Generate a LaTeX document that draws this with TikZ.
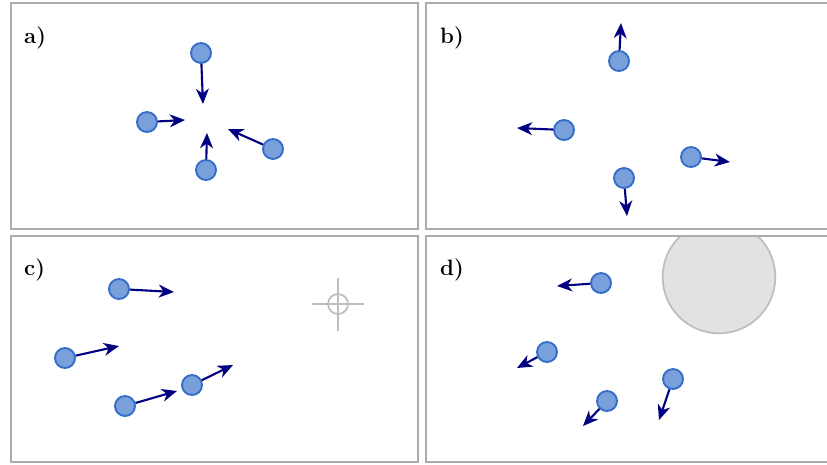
\documentclass[tikz,border=0pt]{standalone}
\usetikzlibrary{arrows.meta}

\definecolor{framegray}{RGB}{172,172,172}
\definecolor{partfill}{RGB}{122,160,220}
\definecolor{partedge}{RGB}{52,110,200}
\definecolor{velblue}{RGB}{0,0,128}
\definecolor{obstfill}{RGB}{226,226,226}
\definecolor{obstedge}{RGB}{190,190,190}

\tikzset{
    panel/.style={draw=framegray, line width=1.7pt},
    particle/.style={circle, draw=partedge, fill=partfill, line width=1.6pt,
        minimum size=0.6cm, inner sep=0pt},
    vel/.style={draw=velblue, line width=1.8pt,
        -{Stealth[length=13pt, width=11pt, inset=4pt]}},
    tag/.style={anchor=base west, inner sep=0pt, font=\fontsize{19}{22}\selectfont\bfseries},
    target/.style={draw=obstedge, line width=1.5pt},
}

\begin{document}
\begin{tikzpicture}[x=0.03cm, y=-0.03cm]
    \useasboundingbox (0,0) rectangle (827,464);

    % a) converging
    \begin{scope}
        \draw[panel] (11,3) rectangle (418,229);
        \node[tag] (la) at (24,43) {a)};
        \foreach \px/\py/\tx/\ty [count=\i] in {201/53/203/104, 147/122/185/120,
                206/170/207/133, 273/149/228/129} {
            \node[particle] (a\i) at (\px,\py) {};
            \coordinate (va\i) at (\tx,\ty);
            \draw[vel] (a\i) -- (va\i);
        }
    \end{scope}

    % b) diverging
    \begin{scope}
        \draw[panel] (426,3) rectangle (834,229);
        \node[tag] (lb) at (440,43) {b)};
        \foreach \px/\py/\tx/\ty [count=\i] in {619/61/621/23, 564/130/517/128,
                691/157/730/162, 624/178/627/216} {
            \node[particle] (b\i) at (\px,\py) {};
            \coordinate (vb\i) at (\tx,\ty);
            \draw[vel] (b\i) -- (vb\i);
        }
    \end{scope}

    % c) aligned, with target mark
    \begin{scope}
        \draw[panel] (11,236) rectangle (418,462);
        \node[tag] (lc) at (24,275) {c)};
        \draw[target] (312,304) -- (364,304) (338,278) -- (338,331);
        \draw[target] (338,304) circle[radius=0.3cm];
        \foreach \px/\py/\tx/\ty [count=\i] in {119/289/174/292, 65/358/119/346,
                125/406/177/391, 192/385/233/365} {
            \node[particle] (c\i) at (\px,\py) {};
            \coordinate (vc\i) at (\tx,\ty);
            \draw[vel] (c\i) -- (vc\i);
        }
    \end{scope}

    % d) avoiding obstacle
    \begin{scope}
        \begin{scope}
            \clip (426,236) rectangle (834,462);
            \draw[target, fill=obstfill] (719,277) circle[radius=1.69cm];
        \end{scope}
        \draw[panel] (426,236) rectangle (834,462);
        \node[tag] (ld) at (440,275) {d)};
        \foreach \px/\py/\tx/\ty [count=\i] in {601/283/557/286, 547/352/517/368,
                607/401/583/426, 673/379/659/420} {
            \node[particle] (d\i) at (\px,\py) {};
            \coordinate (vd\i) at (\tx,\ty);
            \draw[vel] (d\i) -- (vd\i);
        }
    \end{scope}
\end{tikzpicture}
\end{document}
